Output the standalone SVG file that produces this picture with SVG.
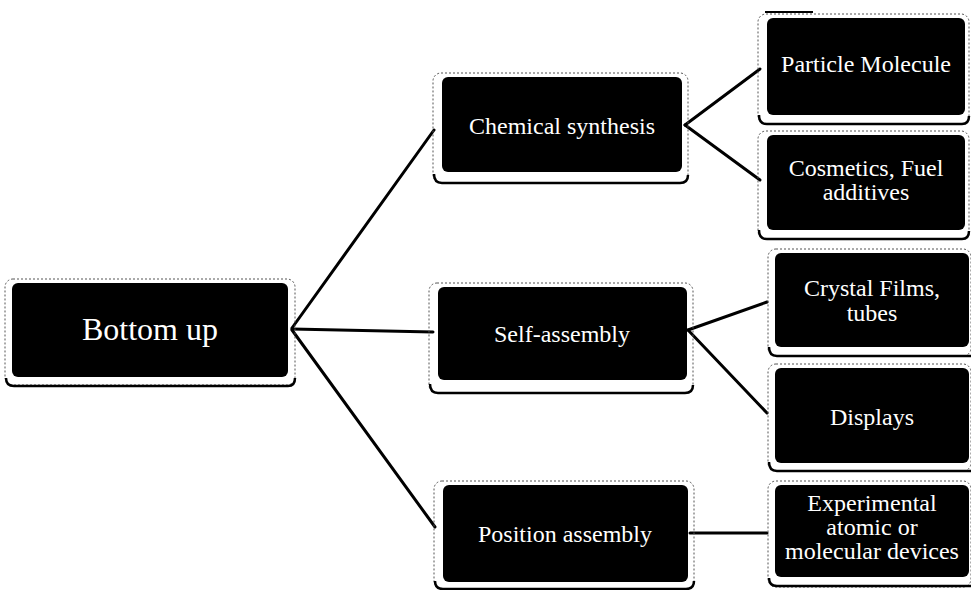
<svg xmlns="http://www.w3.org/2000/svg" width="971" height="590" viewBox="0 0 971 590">
<style>
.box{fill:#000;}
.frame{fill:none;stroke:#555;stroke-width:1;stroke-dasharray:2 2;}
.shadow{fill:none;stroke:#000;stroke-width:2.5;}
.t{fill:#fff;font-family:"Liberation Serif","Times New Roman",serif;font-size:24px;text-anchor:middle;}
.big{font-size:32px;}
.conn{stroke:#000;stroke-width:3;fill:none;stroke-linecap:round;}
</style>
<rect width="971" height="590" fill="#fff"/>
<g id="connectors">
<line class="conn" x1="292" y1="328" x2="434" y2="130"/>
<line class="conn" x1="292" y1="329" x2="433" y2="332"/>
<line class="conn" x1="292" y1="330" x2="435" y2="527"/>
<line class="conn" x1="685" y1="125" x2="760" y2="69"/>
<line class="conn" x1="685" y1="125" x2="760" y2="180"/>
<line class="conn" x1="688" y1="330" x2="767" y2="302"/>
<line class="conn" x1="688" y1="330" x2="767" y2="413"/>
<line class="conn" x1="690" y1="533" x2="767" y2="533"/>
<line x1="765" y1="12" x2="813" y2="12" stroke="#000" stroke-width="2"/>
</g>
<g id="bottom-up">
<rect class="frame" x="5" y="279" width="290" height="106" rx="8"/>
<path class="shadow" d="M6,378 Q6,386 14,386 L288,386 Q295,386 295,378"/>
<rect class="box" x="12" y="283" width="276" height="94" rx="6"/>
<text class="t big" x="150" y="340">Bottom up</text>
</g>
<g id="chemical-synthesis">
<rect class="frame" x="433" y="73" width="255" height="110" rx="8"/>
<path class="shadow" d="M434,174 Q434,183 442,183 L680,183 Q688,183 688,175"/>
<rect class="box" x="442" y="77" width="240" height="95" rx="6"/>
<text class="t" x="562" y="134">Chemical synthesis</text>
</g>
<g id="self-assembly">
<rect class="frame" x="429" y="283" width="264" height="110" rx="8"/>
<path class="shadow" d="M430,384 Q430,393 438,393 L685,393 Q693,393 693,385"/>
<rect class="box" x="438" y="287" width="249" height="93" rx="6"/>
<text class="t" x="562" y="342">Self-assembly</text>
</g>
<g id="position-assembly">
<rect class="frame" x="434" y="481" width="260" height="108" rx="8"/>
<path class="shadow" d="M435,581 Q435,589 443,589 L686,589 Q694,589 694,581"/>
<rect class="box" x="443" y="485" width="245" height="97" rx="6"/>
<text class="t" x="565" y="542">Position assembly</text>
</g>
<g id="particle-molecule">
<rect class="frame" x="758" y="14" width="211" height="110" rx="8"/>
<path class="shadow" d="M759,115 Q759,124 767,124 L962,124 Q969,124 969,116"/>
<rect class="box" x="767" y="18" width="198" height="97" rx="6"/>
<text class="t" x="866" y="72">Particle Molecule</text>
</g>
<g id="cosmetics">
<rect class="frame" x="758" y="131" width="211" height="108" rx="8"/>
<path class="shadow" d="M759,230 Q759,239 767,239 L962,239 Q969,239 969,231"/>
<rect class="box" x="767" y="135" width="198" height="95" rx="6"/>
<text class="t" x="866" y="176">Cosmetics, Fuel</text>
<text class="t" x="866" y="200">additives</text>
</g>
<g id="crystal-films">
<rect class="frame" x="768" y="249" width="203" height="107" rx="8"/>
<path class="shadow" d="M769,347 Q769,356 777,356 L971,356"/>
<rect class="box" x="775" y="253" width="194" height="94" rx="6"/>
<text class="t" x="872" y="296">Crystal Films,</text>
<text class="t" x="872" y="321">tubes</text>
</g>
<g id="displays">
<rect class="frame" x="768" y="364" width="203" height="107" rx="8"/>
<path class="shadow" d="M769,462 Q769,471 777,471 L971,471"/>
<rect class="box" x="775" y="368" width="194" height="95" rx="6"/>
<text class="t" x="872" y="425">Displays</text>
</g>
<g id="experimental">
<rect class="frame" x="768" y="481" width="203" height="106" rx="8"/>
<path class="shadow" d="M769,578 Q769,586 777,586 L971,586"/>
<rect class="box" x="775" y="485" width="194" height="92" rx="6"/>
<text class="t" x="872" y="511">Experimental</text>
<text class="t" x="872" y="535">atomic or</text>
<text class="t" x="872" y="559">molecular devices</text>
</g>
</svg>
